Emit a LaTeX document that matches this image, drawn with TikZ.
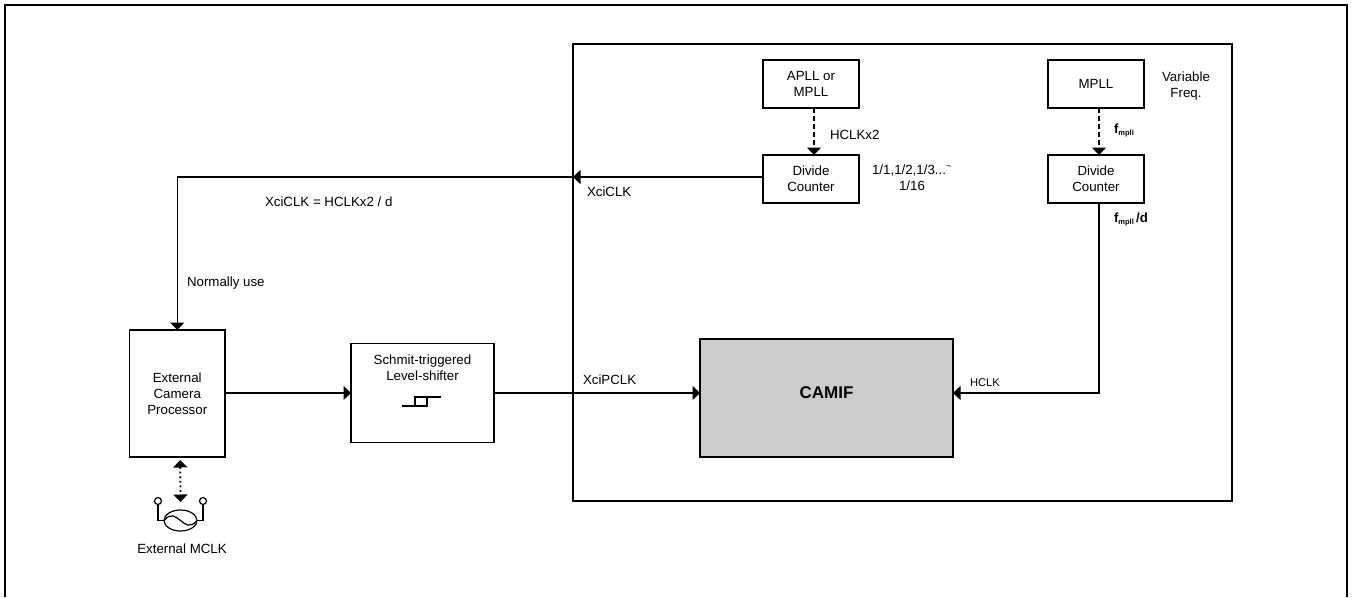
\documentclass[tikz,border=0pt]{standalone}
\usepackage{fontspec}
\setmainfont{Liberation Sans}
\usetikzlibrary{positioning,arrows.meta,shapes.geometric}
\newcommand{\fmpll}{\textbf{f\raisebox{-2pt}{\fontsize{7.5}{8}\selectfont mpll}}}
\definecolor{caja}{HTML}{CCCCCC}
\begin{document}
\begin{tikzpicture}[x=1pt, y=-1pt, line width=1.5pt,
      font=\fontsize{13.3}{16}\selectfont, >={Triangle[length=7.5pt,width=14pt]},
      b/.style={draw, align=center, inner sep=0pt, outer sep=0pt, minimum width=96pt, minimum height=48pt},
      etq/.style={inner sep=0pt, outer sep=0pt, align=center},
      chico/.style={etq, font=\fontsize{11.2}{13}\selectfont},
      fino/.style={line width=1.2pt}]
    \useasboundingbox (0,0) rectangle (1354,597);
    \node[draw, inner sep=0pt, outer sep=0pt, minimum width=659pt, minimum height=457pt] (chip) at (902.5,272.5) {};
    \draw[line width=2pt] (5,597) -- (5,5) -- (1347,5) -- (1347,597);
    % clock sources
    \node[b] (apll) at (811,84) {APLL or\\MPLL};
    \node[b, below=47pt of apll] (divA) {Divide\\Counter};
    \node[b, right=189pt of apll] (mpll) {MPLL};
    \node[b, below=47pt of mpll] (divM) {Divide\\Counter};
    % main blocks
    \node[b, minimum width=95.5pt, minimum height=127pt] (proc) at (177.25,393.5) {External\\Camera\\Processor};
    \node[b, minimum width=143pt, minimum height=99pt, right=126pt of proc, yshift=0.5pt] (schmit) {};
    \node[etq, above=0pt of schmit.north, yshift=-37pt] (schmitT) {Schmit-triggered\\Level-shifter};
    \node[b, fill=caja, minimum width=253pt, minimum height=118pt] (camif) at (826.5,398) {};
    \node[etq, font=\fontsize{17}{20}\selectfont\bfseries] (camifT) at ([yshift=5pt]camif.center) {CAMIF};
    % oscillator
    \node[draw, fino, ellipse, inner sep=0pt, outer sep=0pt, minimum width=33pt, minimum height=21pt] (osc) at (180.5,520.5) {};
    \node[draw, fino, circle, inner sep=0pt, outer sep=0pt, minimum size=7pt] (pinL) at (158,501) {};
    \node[draw, fino, circle, inner sep=0pt, outer sep=0pt, minimum size=7pt] (pinR) at (203,501) {};
    \draw[fino] (pinL) |- (osc.west);
    \draw[fino] (pinR) |- (osc.east);
    \draw[fino] (osc.west) .. controls (171,512) and (176,517) .. (osc.center) .. controls (185,524) and (190,529) .. (osc.east);
    % hysteresis symbol
    \draw[fino] (402,406) -- (427,406) -- (427,397) -- (441,397) (427,397) -- (415,397) -- (415,406);
    % connectors
    \draw[->] ([yshift=2pt]divA.west) -- ([yshift=2pt]divA.west -| chip.west);
    \draw[->] ([yshift=2pt]divA.west -| chip.west) -| (proc.north);
    \draw[->] (proc.east |- schmit.west) -- (schmit.west);
    \draw[->] (schmit.east) -- (schmit.east -| camif.west);
    \draw[->] ([xshift=3pt]divM.south) |- (schmit.east -| camif.east);
    \draw[->, dash pattern=on 5pt off 3pt] ([xshift=3pt]apll.south) -- ([xshift=3pt]divA.north);
    \draw[->, dash pattern=on 5pt off 3pt] ([xshift=3pt]mpll.south) -- ([xshift=3pt]divM.north);
    \draw[<->, line width=1.8pt, dash pattern=on 1.8pt off 2.8pt] ([xshift=3pt,yshift=-3pt]proc.south) -- ([yshift=8pt]osc.north);
    % labels
    \node[etq, anchor=west] (hclkx) at (830,135) {HCLKx2};
    \node[etq] (razon) at (912,178) {1/1,1/2,1/3...\textsuperscript{\textasciitilde}\\1/16};
    \node[etq] (varf) at (1186,86) {Variable\\Freq.};
    \node[etq, anchor=west] (fm) at (1114,130) {\fmpll};
    \node[etq, anchor=west] (fmd) at (1114,219) {\fmpll\,\textbf{/d}};
    \node[etq, anchor=west] (xclk) at (587,192) {XciCLK};
    \node[etq, anchor=west] (form) at (265,202) {XciCLK = HCLKx2 / d};
    \node[etq, anchor=west] (normal) at (187,283) {Normally use};
    \node[etq, anchor=west] (xpclk) at (583,380) {XciPCLK};
    \node[chico, anchor=west] (hclk) at (970,383) {HCLK};
    \node[etq] (mclk) at (182,549) {External MCLK};
  \end{tikzpicture}
\end{document}
